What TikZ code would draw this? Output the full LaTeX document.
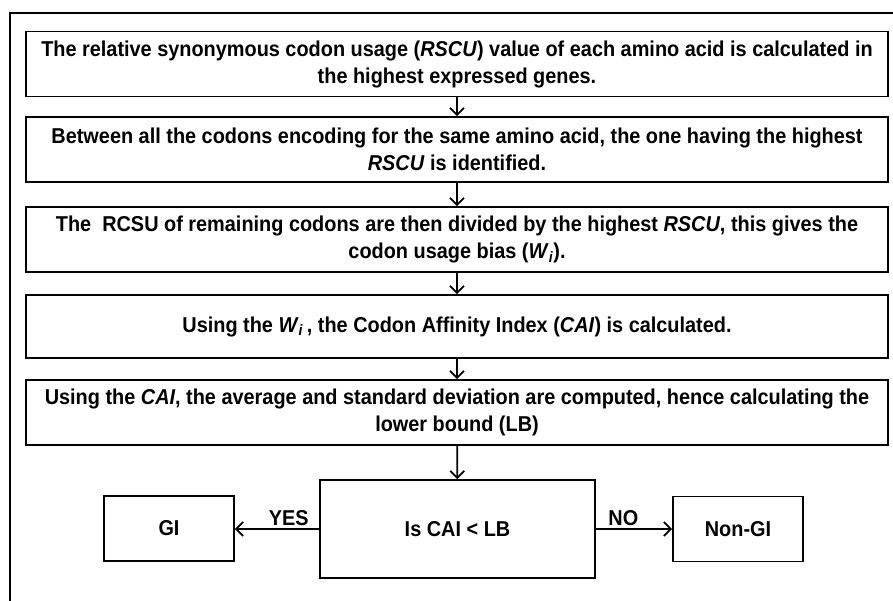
\documentclass[tikz,border=0pt]{standalone}
\usepackage{fontspec}
\setmainfont{Liberation Sans}[FakeStretch=0.925]
\usetikzlibrary{arrows.meta}
\begin{document}
\begin{tikzpicture}[x=1pt,y=-1pt,
  stepbox/.style={draw, line width=1.8pt, minimum width=862pt, minimum height=65pt, align=center, inner sep=0pt, font=\fontsize{21.5}{27}\selectfont\bfseries},
  smallbox/.style={draw, line width=1.8pt, minimum width=130pt, minimum height=65pt, align=center, inner sep=0pt, font=\fontsize{21.5}{27}\selectfont\bfseries},
  conn/.style={line width=1.8pt, -{Straight Barb[length=7pt, width=14pt, line width=1.8pt]}},
  lbl/.style={font=\fontsize{21.5}{27}\selectfont\bfseries, inner sep=0pt, anchor=south, yshift=2pt}
]
\useasboundingbox (0,0) rectangle (893,600);
\clip (0,0) rectangle (893,600);
\draw[line width=1.8pt] (10,13) rectangle (910,620);
\node[stepbox] (b1) at (457,64) {The relative synonymous codon usage (\textit{RSCU}) value of each amino acid is calculated in\\the highest expressed genes.};
\node[stepbox] (b2) at (457,149.5) {Between all the codons encoding for the same amino acid, the one having the highest\\\textit{RSCU} is identified.};
\node[stepbox] (b3) at (457,239.5) {The\ \ RCSU of remaining codons are then divided by the highest \textit{RSCU}, this gives the\\codon usage bias (\textit{W}\textsubscript{\textit{i}}).};
\node[stepbox, minimum height=63pt] (b4) at (457,326.5) {Using the \textit{W}\textsubscript{\textit{i}}\,, the Codon Affinity Index (\textit{CAI}) is calculated.};
\node[stepbox] (b5) at (457,412.5) {Using the \textit{CAI}, the average and standard deviation are computed, hence calculating the\\lower bound (LB)};
\node[smallbox, minimum width=275pt, minimum height=98pt] (dec) at (457.5,529) {Is CAI < LB};
\node[smallbox] (gi) at (169,528.5) {GI};
\node[smallbox] (ngi) at (738,529) {Non-GI};
\draw[conn] (b1) -- (b2);
\draw[conn] (b2) -- (b3);
\draw[conn] (b3) -- (b4);
\draw[conn] (b4) -- (b5);
\draw[conn] (b5) -- (dec);
\draw[conn] (dec.west) -- (gi.east |- dec.west) node[lbl, pos=0.36] (yes) {YES};
\draw[conn] (dec.east) -- (ngi.west |- dec.east) node[lbl, pos=0.36] (no) {NO};
\end{tikzpicture}
\end{document}
